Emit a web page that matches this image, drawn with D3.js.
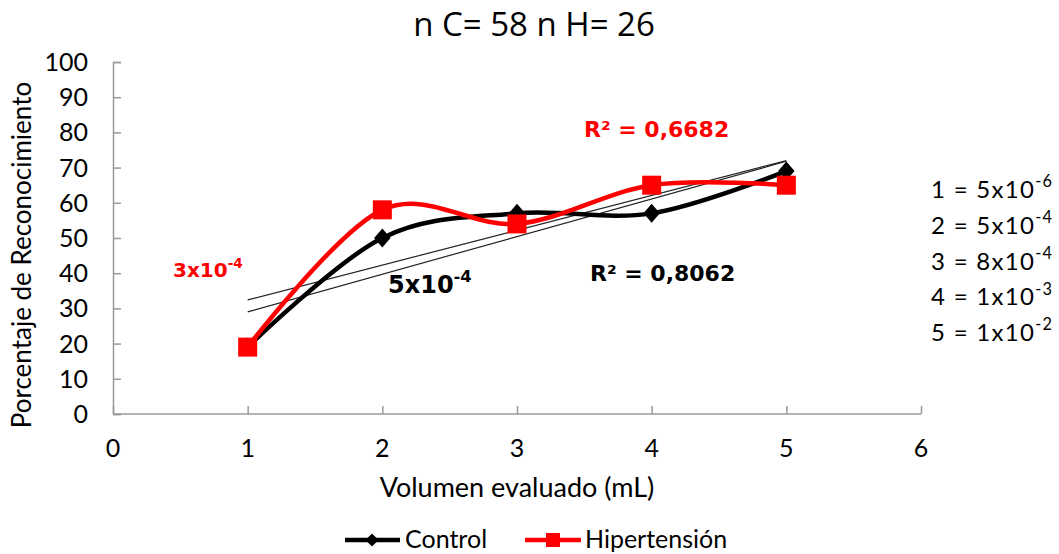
<!DOCTYPE html>
<html>
<head>
<meta charset="utf-8"/>
<script src="https://d3js.org/d3.v7.min.js"></script>
<style>
  body { margin: 0; background: #fff; }
  text { font-family: Lato, "Open Sans", sans-serif; fill: #000; }
  .bold { font-family: "DejaVu Sans", sans-serif; font-weight: bold; }
</style>
</head>
<body>
<svg id="chart" width="1059" height="554"></svg>
<script>
// volumes evaluated (mL) and recognition percentages
var volumes = [1, 2, 3, 4, 5];
var control = [19, 50, 57, 57, 69];
var hipertension = [19, 58, 54, 65, 65];
var xTicks = [0, 1, 2, 3, 4, 5, 6];
var yTicks = [0, 10, 20, 30, 40, 50, 60, 70, 80, 90, 100];
var doseLabels = [
  {n: "1", base: "5x10", exp: "-6"},
  {n: "2", base: "5x10", exp: "-4"},
  {n: "3", base: "8x10", exp: "-4"},
  {n: "4", base: "1x10", exp: "-3"},
  {n: "5", base: "1x10", exp: "-2"}
];

var svg = d3.select("#chart");
var x = d3.scaleLinear().domain([0, 6]).range([113, 921]);
var y = d3.scaleLinear().domain([0, 100]).range([414, 62]);

// title
svg.append("text").attr("x", 534).attr("y", 36).attr("text-anchor", "middle")
  .style("font-size", "33px").style("font-family", "'Open Sans', sans-serif")
  .text("n C= 58 n H= 26");

// axes, ticks pointing into the plot
var axisColor = "#9a9a9a";
var xAxis = svg.append("g").attr("transform", "translate(0," + y(0) + ")")
  .call(d3.axisTop(x).tickValues(xTicks).tickSize(8).tickFormat(""));
var yAxis = svg.append("g").attr("transform", "translate(" + x(0) + ",0)")
  .call(d3.axisRight(y).tickValues(yTicks).tickSize(8).tickFormat(""));
[xAxis, yAxis].forEach(function(a) {
  a.selectAll("path, line").attr("stroke", axisColor).attr("stroke-width", 1.5);
});
xAxis.select("path").attr("d", "M" + x(0) + ",0H" + x(6));

svg.selectAll(".xlab").data(xTicks).enter().append("text")
  .attr("x", function(d) { return x(d); }).attr("y", 457)
  .attr("text-anchor", "middle").style("font-size", "25px")
  .text(function(d) { return d; });
svg.selectAll(".ylab").data(yTicks).enter().append("text")
  .attr("x", 88).attr("y", function(d) { return y(d) + 9; })
  .attr("text-anchor", "end").style("font-size", "25px")
  .text(function(d) { return d; });

svg.append("text").attr("x", 517).attr("y", 497).attr("text-anchor", "middle")
  .style("font-size", "27px").text("Volumen evaluado (mL)");
svg.append("text").attr("transform", "translate(31,255) rotate(-90)")
  .attr("text-anchor", "middle").style("font-size", "26px").text("Porcentaje de Reconocimiento");

// linear trend lines
function trend(vals) {
  var mx = d3.mean(volumes), my = d3.mean(vals);
  var sxy = d3.sum(volumes, function(v, i) { return (v - mx) * (vals[i] - my); });
  var sxx = d3.sum(volumes, function(v) { return (v - mx) * (v - mx); });
  var b = sxy / sxx;
  return function(v) { return my + b * (v - mx); };
}
[control, hipertension].forEach(function(vals) {
  var f = trend(vals);
  svg.append("line")
    .attr("x1", x(1)).attr("y1", y(f(1)))
    .attr("x2", x(5)).attr("y2", y(f(5)))
    .attr("stroke", "#222").attr("stroke-width", 1.2);
});

// smoothed series
var line = d3.line().curve(d3.curveCardinal.tension(0))
  .x(function(d) { return x(d[0]); }).y(function(d) { return y(d[1]); });

svg.append("path").datum(d3.zip(volumes, control))
  .attr("d", line).attr("fill", "none").attr("stroke", "#000").attr("stroke-width", 4.5);
svg.selectAll(".dia").data(d3.zip(volumes, control)).enter().append("path")
  .attr("d", d3.symbol().type(d3.symbolDiamond2).size(190))
  .attr("transform", function(d) { return "translate(" + x(d[0]) + "," + y(d[1]) + ") scale(0.95,1.1)"; })
  .attr("fill", "#000");

svg.append("path").datum(d3.zip(volumes, hipertension))
  .attr("d", line).attr("fill", "none").attr("stroke", "#ff0000").attr("stroke-width", 4.5);
svg.selectAll(".sq").data(d3.zip(volumes, hipertension)).enter().append("rect")
  .attr("x", function(d) { return x(d[0]) - 9.5; }).attr("y", function(d) { return y(d[1]) - 9.5; })
  .attr("width", 19).attr("height", 19).attr("fill", "#ff0000");

// annotations
function supText(px, py, base, exp, size, color, bold, spacing) {
  var t = svg.append("text").attr("x", px).attr("y", py)
    .attr("class", bold ? "bold" : null)
    .style("font-size", size + "px").style("fill", color)
    .style("letter-spacing", (spacing || 0) + "px");
  t.append("tspan").text(base);
  t.append("tspan").attr("dy", -size * 0.45).style("font-size", (size * 0.68) + "px").text(exp);
  return t;
}
svg.append("text").attr("class", "bold").attr("x", 584).attr("y", 137).style("font-size", "22px")
  .style("fill", "#ff0000").text("R² = 0,6682");
svg.append("text").attr("class", "bold").attr("x", 590).attr("y", 281).style("font-size", "22px")
  .text("R² = 0,8062");
supText(388, 293, "5x10", "-4", 24, "#000", true);
supText(173, 277, "3x10", "-4", 20, "#ff0000", true);

doseLabels.forEach(function(d, i) {
  supText(931, 198 + i * 35.8, d.n + " = " + d.base, d.exp, 24, "#000", false, 1.3);
});

// legend
var lg = svg.append("g").attr("transform", "translate(0,540)");
lg.append("line").attr("x1", 345).attr("x2", 400).attr("stroke", "#000").attr("stroke-width", 4.5);
lg.append("path").attr("d", d3.symbol().type(d3.symbolDiamond2).size(110))
  .attr("transform", "translate(372,0)").attr("fill", "#000");
lg.append("text").attr("x", 405).attr("y", 8).style("font-size", "25px").text("Control");
lg.append("line").attr("x1", 525).attr("x2", 581).attr("stroke", "#ff0000").attr("stroke-width", 4.5);
lg.append("rect").attr("x", 546).attr("y", -7).attr("width", 14).attr("height", 14).attr("fill", "#ff0000");
lg.append("text").attr("x", 585).attr("y", 8).style("font-size", "25px").text("Hipertensión");
</script>
</body>
</html>
